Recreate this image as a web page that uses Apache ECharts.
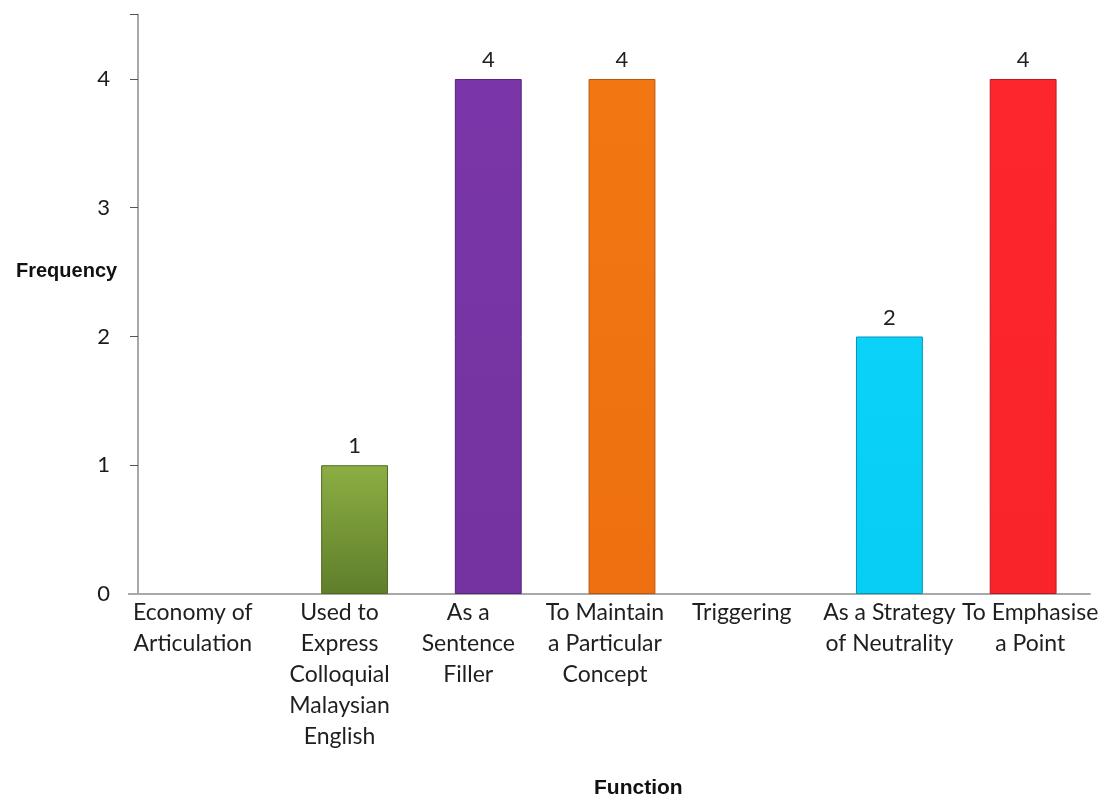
<!DOCTYPE html>
<html>
<head>
<meta charset="utf-8">
<script src="https://cdn.jsdelivr.net/npm/echarts@6/dist/echarts.min.js"></script>
<style>html,body{margin:0;padding:0;background:#fff}#c{width:1105px;height:794px}</style>
</head>
<body>
<div id="c"></div>
<script>
const categories = [
  "Economy of\nArticulation",
  "Used to\nExpress\nColloquial\nMalaysian\nEnglish",
  "As a\nSentence\nFiller",
  "To Maintain\na Particular\nConcept",
  "Triggering",
  "As a Strategy\nof Neutrality",
  "To Emphasise\na Point"
];
const frequency = [null, 1, 4, 4, null, 2, 4];
const yTicks = [0, 1, 2, 3, 4];
const barColors = [
  ["#8cae43", "#5f7e2b", "#4f6a22"],
  ["#8cae43", "#5f7e2b", "#4f6a22"],
  ["#7a36a8", "#7433a0", "#56237a"],
  ["#f27712", "#ee7010", "#b9560a"],
  ["#0ad2f8", "#08cdf4", "#0797b5"],
  ["#0ad2f8", "#08cdf4", "#0797b5"],
  ["#fd262d", "#f9232a", "#b81a1f"]
];

const FONT = "Lato, 'Open Sans', sans-serif";
const TITLE_FONT = "Arial, 'Liberation Sans', sans-serif";
// horizontal nudges of the wrapped category labels (layout only)
const labelNudge = [-28, -15, -20, -17, -14, 0, 7];

function barStyle(i) {
  const c = barColors[i];
  return {
    color: {
      type: 'linear', x: 0, y: 0, x2: 0, y2: 1,
      colorStops: [{offset: 0, color: c[0]}, {offset: 1, color: c[1]}]
    },
    borderColor: c[2],
    borderWidth: 1
  };
}

const rich = {};
labelNudge.forEach((d, i) => {
  rich['n' + i] = {
    fontFamily: FONT, fontSize: 23, lineHeight: 31, color: '#1f1f1f',
    padding: d >= 0 ? [0, 0, 0, 2 * d] : [0, -2 * d, 0, 0]
  };
});

const chart = echarts.init(document.getElementById('c'), null, {renderer: 'canvas'});
const option = {
  animation: false,
  backgroundColor: '#fff',
  grid: {left: 154, right: 15, top: 14.6, bottom: 200, containLabel: false},
  title: [
    {text: 'Frequency', left: 11, top: 256, textStyle: {fontFamily: TITLE_FONT, fontWeight: 'bold', fontSize: 20, color: '#111'}},
    {text: 'Function', left: 589, top: 773, textStyle: {fontFamily: TITLE_FONT, fontWeight: 'bold', fontSize: 21, color: '#111'}}
  ],
  xAxis: {
    type: 'category',
    data: categories,
    axisLine: {show: true, lineStyle: {color: '#a8a8a8', width: 2}},
    axisTick: {show: false},
    axisLabel: {
      interval: 0, margin: 3, fontFamily: FONT, fontSize: 23, lineHeight: 31,
      color: '#1f1f1f',
      formatter: (v, i) => v.split('\n').map(line => '{n' + i + '|' + line + '}').join('\n'),
      rich: rich
    },
    splitLine: {show: false}
  },
  yAxis: {
    type: 'value', min: 0, max: 4.5, interval: 1, offset: 16,
    axisLine: {show: true, lineStyle: {color: '#a8a8a8', width: 2}},
    axisTick: {show: true, length: 8, inside: false, lineStyle: {color: '#555', width: 1}},
    axisLabel: {
      margin: 28, fontFamily: FONT, fontSize: 22, color: '#1a1a1a',
      formatter: v => (yTicks.indexOf(v) >= 0 ? String(v) : '')
    },
    splitLine: {show: false}
  },
  series: [{
    type: 'bar',
    barWidth: '50%',
    data: frequency.map((v, i) => ({value: v, itemStyle: barStyle(i)})),
    label: {
      show: true, position: 'top', distance: 8,
      fontFamily: FONT, fontSize: 22, color: '#1f1f1f',
      formatter: p => (p.value == null ? '' : String(p.value))
    }
  }]
};
chart.setOption(option);

// extend zero baseline to the left like the reference
const y0 = chart.convertToPixel({yAxisIndex: 0}, 0);
chart.setOption({
  graphic: [{
    type: 'line', z: 1,
    shape: {x1: 128, y1: y0, x2: 154, y2: y0},
    style: {stroke: '#a8a8a8', lineWidth: 2}
  }]
});
</script>
</body>
</html>
